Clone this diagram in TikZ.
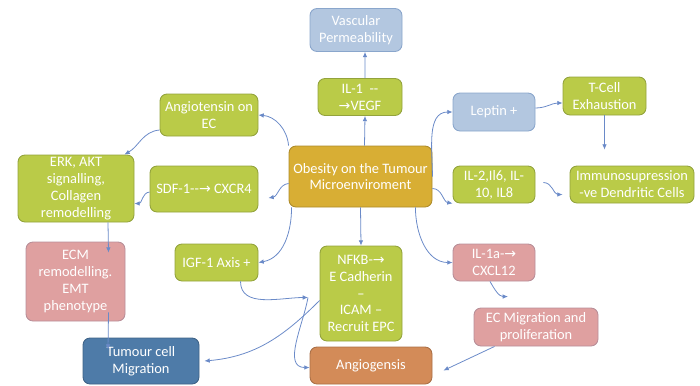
\documentclass[tikz,border=0pt]{standalone}
\usepackage{fontspec}
\setmainfont{Carlito}
\newfontfamily\arrowfont{DejaVu Sans}
\usetikzlibrary{arrows.meta}
\newcommand{\rarr}{{\arrowfont\footnotesize →}}

\definecolor{boxgreen}{HTML}{BACB48}
\definecolor{linegreen}{HTML}{93A33C}
\definecolor{boxblue}{HTML}{B3C7E0}
\definecolor{lineblue}{HTML}{8AA6CC}
\definecolor{boxgold}{HTML}{D8AE34}
\definecolor{boxpink}{HTML}{DFA0A0}
\definecolor{linepink}{HTML}{B88E98}
\definecolor{boxnavy}{HTML}{4E7BA8}
\definecolor{boxcopper}{HTML}{D38B58}
\definecolor{arrowblue}{HTML}{6A8AC8}

\tikzset{
  card/.style={rounded corners=4pt,align=center,text=white,inner sep=1pt,
    font=\fontsize{8.2}{9.6}\selectfont,line width=0.5pt},
  gcard/.style={card,fill=boxgreen,draw=linegreen},
  bcard/.style={card,fill=boxblue,draw=lineblue},
  pcard/.style={card,fill=boxpink,draw=linepink},
  link/.style={draw=arrowblue,line width=0.45pt,-{Latex[length=3pt,width=2.6pt]}}
}

\begin{document}
\begin{tikzpicture}
\useasboundingbox (0,0) rectangle (14,-7.7);
% boxes
\node[bcard,minimum width=1.84cm,minimum height=0.86cm](vasc) at (7.12,-0.6) {Vascular\\Permeability};
\node[gcard,minimum width=1.68cm,minimum height=0.74cm](ilone) at (7.2,-1.94) {IL-1\ \ -{}-\\\rarr VEGF};
\node[gcard,minimum width=1.96cm,minimum height=0.84cm](angio) at (4.18,-2.3) {Angiotensin on\\EC};
\node[gcard,minimum width=2.32cm,minimum height=1.34cm](erk) at (1.52,-3.77) {ERK, AKT\\signalling,\\Collagen\\remodelling};
\node[gcard,minimum width=2.16cm,minimum height=0.92cm](sdf) at (4.08,-3.78) {SDF-1-{}-\rarr\ CXCR4};
\node[card,fill=boxgold,draw=boxgold!80!black,minimum width=2.86cm,minimum height=1.22cm](obes) at (7.21,-3.53) {Obesity on the Tumour\\Microenviroment};
\node[bcard,minimum width=1.64cm,minimum height=0.76cm](leptin) at (9.88,-2.24) {Leptin +};
\node[gcard,minimum width=1.66cm,minimum height=0.76cm](tcell) at (12.09,-1.92) {T-Cell\\Exhaustion};
\node[gcard,minimum width=1.64cm,minimum height=0.74cm](iltwo) at (9.88,-3.69) {IL-2,Il6, IL-\\10, IL8};
\node[gcard,minimum width=2.48cm,minimum height=0.74cm](immuno) at (12.64,-3.69) {Immunosupression\\-ve Dendritic Cells};
\node[pcard,minimum width=1.98cm,minimum height=1.58cm](ecm) at (1.51,-5.63) {ECM\\remodelling.\\EMT\\phenotype};
\node[gcard,minimum width=1.66cm,minimum height=0.74cm](igf) at (4.33,-5.25) {IGF-1 Axis +};
\node[gcard,minimum width=1.64cm,minimum height=1.9cm](nfkb) at (7.22,-5.87) {NFKB-\rarr\\E Cadherin\\–\\ICAM –\\Recruit EPC};
\node[pcard,minimum width=1.64cm,minimum height=0.74cm](ilonea) at (9.88,-5.25) {IL-1a-\rarr\\CXCL12};
\node[pcard,minimum width=2.48cm,minimum height=0.76cm](ecmig) at (10.72,-6.54) {EC Migration and\\proliferation};
\node[card,fill=boxnavy,draw=boxnavy!80!black,minimum width=2.32cm,minimum height=0.92cm](tumour) at (2.82,-7.22) {Tumour cell\\Migration};
\node[card,fill=boxcopper,draw=boxcopper!80!black,minimum width=2.44cm,minimum height=0.74cm](angi) at (7.42,-7.31) {Angiogensis};
\coordinate (hub) at (6.16,-5.95);

% connectors
\draw[link] ([xshift=0.1cm]ilone.north) -- ([xshift=0.18cm]vasc.south);
\draw[link] ([xshift=0.08cm]obes.north) -- ([xshift=0.1cm]ilone.south);
\draw[link] (obes.north west) to[out=95,in=-5] (angio.east);
\draw[link] ([yshift=-0.3cm]angio.west) to[out=185,in=30] ([xshift=-0.2cm]erk.north east);
\draw[link] ([yshift=-0.14cm]obes.west) to[out=185,in=10] ([xshift=0.2cm,yshift=-0.18cm]sdf.east);
\draw[link] ([yshift=-0.06cm]sdf.west) to[out=185,in=0] ([yshift=-0.3cm]erk.east);
\draw[link] ([xshift=0.06cm]obes.south west) to[out=-90,in=10] (igf.east);
\draw[link] ([xshift=0.64cm]erk.south) -- ([xshift=0.66cm,yshift=-0.22cm]ecm.north);
\draw[link] ([xshift=0.66cm,yshift=0.18cm]ecm.south) -- ([xshift=-0.66cm,yshift=-0.24cm]tumour.north);
\draw[link] ([xshift=0.48cm]igf.south) to[out=-90,in=180] (hub);
\draw[link] ([yshift=-0.14cm]nfkb.west) to[out=225,in=5] ([xshift=0.1cm]tumour.east);
\draw[link] (hub) to[out=-100,in=180] ([yshift=-0.04cm]angi.west);
\draw[link] (obes.south) -- (nfkb.north);
\draw[link] (obes.east) to[out=90,in=180] (leptin.west);
\draw[link] ([yshift=0.08cm]leptin.east) to[out=0,in=180] ([yshift=-0.14cm]tcell.west);
\draw[link] (tcell.south) -- ([yshift=0.32cm]immuno.north -| tcell.south);
\draw[link] ([yshift=-0.24cm]obes.east) to[out=0,in=170] (iltwo.south west);
\draw[link] ([xshift=0.16cm,yshift=0.04cm]iltwo.east) to[out=0,in=180] ([xshift=-0.14cm,yshift=-0.2cm]immuno.west);
\draw[link] ([xshift=-0.34cm]obes.south east) to[out=-90,in=180] (ilonea.west);
\draw[link] ([xshift=-0.08cm]ilonea.south) to[out=-60,in=180] ([xshift=-0.56cm,yshift=0.22cm]ecmig.north);
\draw[link] ([xshift=0.42cm]ecmig.south west) -- ([xshift=0.22cm,yshift=-0.1cm]angi.east);
\end{tikzpicture}
\end{document}
